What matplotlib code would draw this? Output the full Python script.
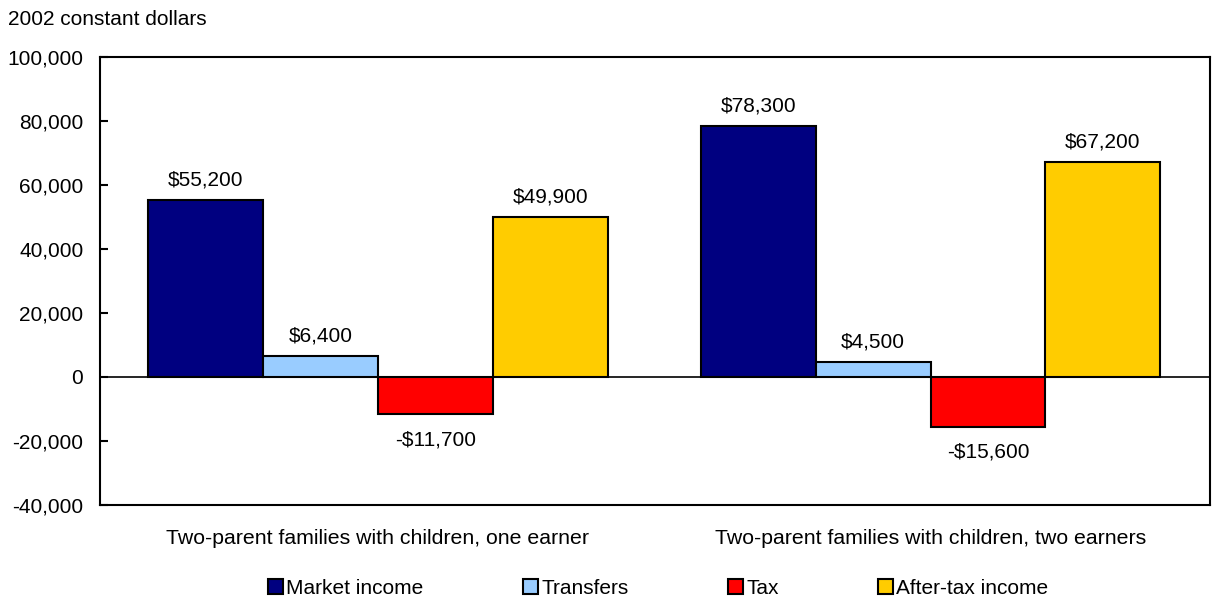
import numpy as np
import matplotlib
matplotlib.use("Agg")
import matplotlib.pyplot as plt
from matplotlib.patches import Patch

plt.rcParams['font.family'] = ['Liberation Sans', 'DejaVu Sans']

groups = ["Two-parent families with children, one earner",
          "Two-parent families with children, two earners"]
series = ["Market income", "Transfers", "Tax", "After-tax income"]
market = [55200, 78300]
transfers = [6400, 4500]
tax = [-11700, -15600]
after_tax = [49900, 67200]
colors = ["#000080", "#99CCFF", "#FF0000", "#FFCC00"]

fig = plt.figure(figsize=(12.12, 6.04), dpi=100)
ax = fig.add_axes([0.0825, 0.164, 0.9155, 0.742])

x = np.arange(len(groups))
w = 0.208
vals = [market, transfers, tax, after_tax]
for i, (v, c) in enumerate(zip(vals, colors)):
    pos = x + (i - 1.5) * w
    ax.bar(pos, v, w, color=c, edgecolor="black", linewidth=1.5)
    for p, val in zip(pos, v):
        lab = ("-$" if val < 0 else "$") + f"{abs(val):,}"
        if val >= 0:
            ax.text(p, val + 3300, lab, ha="center", va="bottom", fontsize=15)
        else:
            ax.text(p, val - 5000, lab, ha="center", va="top", fontsize=15)

ax.axhline(0, color="black", linewidth=1.2)
ax.set_xlim(-0.503, 1.505)
ax.set_ylim(-40000, 100000)
ax.set_yticks(np.arange(-40000, 100001, 20000))
ax.yaxis.set_major_formatter(matplotlib.ticker.FuncFormatter(lambda v, p: f"{int(v):,}"))
ax.tick_params(axis="y", direction="in", length=6, width=1.5, labelsize=15, pad=12)
ax.set_xticks(x)
ax.set_xticklabels(groups, fontsize=15.3)
ax.tick_params(axis="x", length=0, pad=17)
for s in ax.spines.values():
    s.set_linewidth(1.5)

fig.text(0.007, 0.968, "2002 constant dollars", fontsize=15, va="center")

handles = [Patch(facecolor=c, edgecolor="black", linewidth=1.5) for c in colors]
fig.legend(handles, series, loc="center", bbox_to_anchor=(0.543, 0.026), ncol=4,
           frameon=False, handlelength=0.75, handleheight=0.75,
           handletextpad=0.15, columnspacing=4.75,
           prop={'family': ['Liberation Sans', 'DejaVu Sans'], 'size': 15})

fig.savefig("out.png", dpi=100)
